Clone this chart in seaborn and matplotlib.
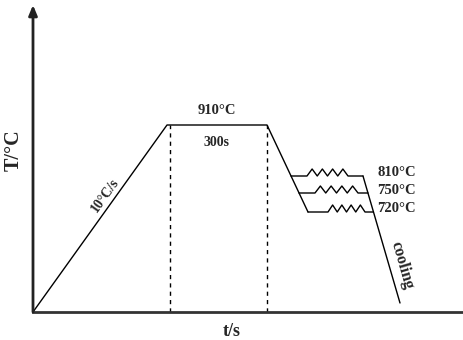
import numpy as np
import pandas as pd
import matplotlib.pyplot as plt
import seaborn as sns

# === schematic heat-treatment route (arbitrary time / temperature units) ===
ramp_t = [0, 134, 234, 275]
ramp_T = [0, 187, 187, 100]

cool_t = [330, 367]
cool_T = [136, 9]

hold_T = [136, 119, 100]
hold_start = [258, 266, 275]
hold_end = [330, 335, 340]
zig_start = [274, 282, 295]
zig_end = [315, 325, 332]
hold_labels = ["810°C", "750°C", "720°C"]

dash_t = [137, 234]
peak_T = 187

sns.set_style("white")
plt.rcParams["font.family"] = ["Liberation Serif", "DejaVu Serif"]
plt.rcParams["font.weight"] = "bold"

fig = plt.figure(figsize=(4.63, 3.4), dpi=100)
ax = fig.add_axes([33 / 463, 28 / 340, 429 / 463, 307 / 340])

line_kw = dict(color="black", linewidth=1.0, sort=False, estimator=None, ax=ax)

# heating ramp, plateau, quench
sns.lineplot(x=ramp_t, y=ramp_T, **line_kw)
# final cooling
sns.lineplot(x=cool_t, y=cool_T, **line_kw)

# isothermal holds with zigzag section
for T, x0, x1, z0, z1, lab in zip(hold_T, hold_start, hold_end, zig_start, zig_end, hold_labels):
    n_peaks = 4
    zx = np.linspace(z0, z1, 2 * n_peaks + 1)
    zy = [T + (7 if i % 2 else 0) for i in range(len(zx))]
    xs = [x0] + list(zx) + [x1]
    ys = [T] + zy + [T]
    sns.lineplot(x=xs, y=ys, **line_kw)
    ax.text(344, T + 3, lab, fontsize=10.5, fontweight="bold", va="center", ha="left")

# dashed guides
for t in dash_t:
    ax.plot([t, t], [0, peak_T], color="black", linewidth=1.0, linestyle=(0, (3, 3)))

# annotations
ax.text(184, 201, "910°C", fontsize=10.5, fontweight="bold", ha="center", va="center")
ax.text(184, 169, "300s", fontsize=10, fontweight="bold", ha="center", va="center")
ax.text(72, 117, "10°C/s", fontsize=10, fontweight="bold", ha="center", va="center",
        rotation=54.4, rotation_mode="anchor")
ax.text(369, 47, "cooling", fontsize=11.5, fontweight="bold", ha="center", va="center",
        rotation=-74, rotation_mode="anchor")

ax.set_xlim(0, 429)
ax.set_ylim(0, 307)
ax.set_xticks([])
ax.set_yticks([])
ax.set_xlabel("")
ax.set_ylabel("")
for s in ["top", "right", "left"]:
    ax.spines[s].set_visible(False)
ax.spines["bottom"].set_linewidth(2)
ax.spines["bottom"].set_color("#333333")

# y axis with arrow
ax.annotate("", xy=(0, 307), xytext=(0, 0), xycoords="data",
            arrowprops=dict(arrowstyle="-|>,head_width=0.25,head_length=0.6",
                            color="#222222", linewidth=2, shrinkA=0, shrinkB=0),
            annotation_clip=False)

ax.text(199, -19, "t/s", fontsize=13, fontweight="bold", ha="center", va="center", clip_on=False)
ax.text(-19, 162, "T/°C", fontsize=14.5, fontweight="bold", ha="center", va="center",
        rotation=90, clip_on=False)

fig.savefig("out.png", dpi=100)
